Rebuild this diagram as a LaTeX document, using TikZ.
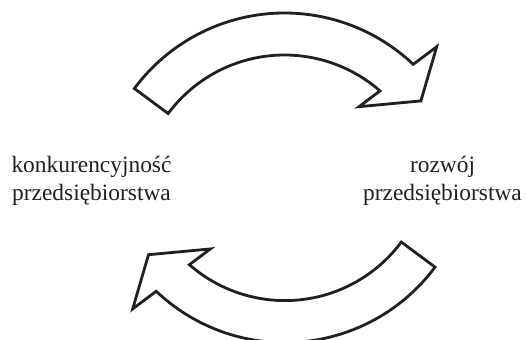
\documentclass[tikz,border=0pt]{standalone}
\usepackage{fontspec}
\setmainfont{Liberation Serif}
\definecolor{inkdark}{HTML}{231F20}

\begin{document}
\begin{tikzpicture}[
    x=1bp, y=1bp,
    arrowline/.style={line width=2.8bp, draw=inkdark, fill=white, miter limit=4},
    lbl/.style={font=\fontsize{23.5}{28}\selectfont, text=inkdark, align=center, inner sep=0pt}
]

\pgfmathsetmacro{\Rout}{187}
\pgfmathsetmacro{\Rin}{145}
\pgfmathsetmacro{\Atail}{143.4}

\useasboundingbox (0,0) rectangle (526,339);

% Upper arrow (left to right)
\begin{scope}[shift={(284.5,139)}]
    \draw[arrowline] (\Atail:\Rout) arc[start angle=\Atail, end angle=46.5, radius=\Rout]
        -- (45.2:216) -- (36:168.6) -- (51.4:119.4) -- (48.8:\Rin)
        arc[start angle=48.8, end angle=\Atail, radius=\Rin] -- cycle;
\end{scope}

% Lower arrow (right to left), same shape turned round
\begin{scope}[shift={(284.9,183.4)}, rotate=180]
    \draw[arrowline] (\Atail:\Rout) arc[start angle=\Atail, end angle=46.5, radius=\Rout]
        -- (45.2:216) -- (36:168.6) -- (51.4:119.4) -- (48.8:\Rin)
        arc[start angle=48.8, end angle=\Atail, radius=\Rin] -- cycle;
\end{scope}

% Labels
\node[lbl] (konk) at (91.5,158) {konkurencyjność\\przedsiębiorstwa};
\node[lbl] (rozw) at (442.5,158) {rozwój\\przedsiębiorstwa};

\end{tikzpicture}
\end{document}
